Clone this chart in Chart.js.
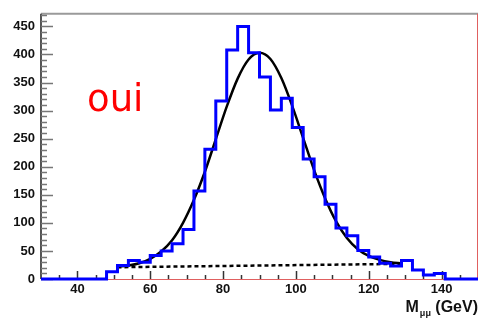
<!DOCTYPE html>
<html>
<head>
<meta charset="utf-8">
<script src="https://cdn.jsdelivr.net/npm/chart.js@4.4.1/dist/chart.umd.min.js"></script>
<style>
  html, body { margin: 0; padding: 0; background: #fff; }
  #wrap { width: 479px; height: 320px; }
</style>
</head>
<body>
<div id="wrap"><canvas id="c" width="479" height="320"></canvas></div>
<script>
// histogram: left edge of each 3 GeV bin and its entries
const binEdges = [30, 33, 36, 39, 42, 45, 48, 51, 54, 57, 60, 63, 66, 69, 72, 75, 78, 81, 84, 87,
                  90, 93, 96, 99, 102, 105, 108, 111, 114, 117, 120, 123, 126, 129, 132, 135, 138, 141, 144, 147]
const binCounts = [0, 0, 0, 0, 0, 0, 13, 24, 33, 30, 42, 50, 63, 88, 157, 231, 317, 408, 450, 403,
                   360, 301, 322, 270, 214, 182, 133, 91, 77, 51, 39, 28, 23, 33, 16, 7, 10, 0, 0, 0]
const histEnd = 150

// fitted curve
const fitMass = [51, 54, 57, 60, 63, 66, 69, 72, 75, 78, 81, 84, 87, 90, 93, 96, 99, 102, 105, 108,
                 111, 114, 117, 120, 123, 126, 129]
const fitValues = [22, 24, 28, 36, 49, 69, 100, 141, 191, 249, 307, 357, 391, 403, 392, 358, 308, 251, 194, 144,
                   103, 73, 53, 41, 34, 30, 28]

// background (dashed)
const bgMass = [51, 129]
const bgValues = [21, 27]

const xTicks = [40, 60, 80, 100, 120, 140]
const yTicks = [0, 50, 100, 150, 200, 250, 300, 350, 400, 450]
const xRange = [30, 150]
const yRange = [0, 472.5]

const histPoints = binEdges.map((x, i) => ({ x: x, y: binCounts[i] }))
histPoints.push({ x: histEnd, y: binCounts[binCounts.length - 1] })

const labelFont = { family: '"Liberation Sans", Arial, sans-serif', size: 13, weight: 'bold' }

// frame, inside ticks and texts (ROOT look)
const rootFrame = {
  id: 'rootFrame',
  beforeDatasetsDraw(chart) {
    const { ctx, chartArea: a, scales } = chart
    const xs = scales.x, ys = scales.y
    ctx.save()
    // top border
    ctx.strokeStyle = '#9a9a9a'
    ctx.lineWidth = 2
    ctx.beginPath(); ctx.moveTo(a.left, a.top); ctx.lineTo(a.right, a.top); ctx.stroke()
    // right and bottom borders in red
    ctx.strokeStyle = '#e06060'
    ctx.lineWidth = 1
    ctx.beginPath(); ctx.moveTo(a.right - 0.5, a.top); ctx.lineTo(a.right - 0.5, a.bottom); ctx.stroke()
    ctx.beginPath(); ctx.moveTo(a.left, a.bottom + 0.5); ctx.lineTo(a.right, a.bottom + 0.5); ctx.stroke()
    // left axis
    ctx.strokeStyle = '#555'
    ctx.lineWidth = 2
    ctx.beginPath(); ctx.moveTo(a.left, a.top); ctx.lineTo(a.left, a.bottom); ctx.stroke()
    // y ticks
    ctx.strokeStyle = '#777'
    ctx.lineWidth = 1.5
    for (let v = 0; v <= 470; v += 10) {
      const y = Math.round(ys.getPixelForValue(v)) + 0.5
      const len = v % 50 === 0 ? 12 : 6
      ctx.beginPath(); ctx.moveTo(a.left, y); ctx.lineTo(a.left + len, y); ctx.stroke()
    }
    // x ticks
    ctx.strokeStyle = '#333'
    for (let v = 35; v < 150; v += 5) {
      const x = Math.round(xs.getPixelForValue(v)) + 0.5
      const len = v % 20 === 0 ? 8 : 4
      ctx.beginPath(); ctx.moveTo(x, a.bottom); ctx.lineTo(x, a.bottom - len); ctx.stroke()
    }
    ctx.restore()
  },
  afterDraw(chart) {
    const { ctx } = chart
    ctx.save()
    // axis title M_mumu (GeV)
    ctx.fillStyle = '#111'
    ctx.textBaseline = 'alphabetic'
    const big = 'bold 16px "Liberation Sans", Arial, sans-serif'
    const small = 'bold 9px "Liberation Sans", Arial, sans-serif'
    ctx.font = big
    const tail = ' (GeV)'
    const wTail = ctx.measureText(tail).width
    const wM = ctx.measureText('M').width
    ctx.font = small
    const wSub = ctx.measureText('μμ').width
    const xEnd = 478
    const base = 312
    ctx.font = big
    ctx.fillText('M', xEnd - wTail - wSub - wM - 1, base)
    ctx.fillText(tail, xEnd - wTail, base)
    ctx.font = small
    ctx.fillText('μμ', xEnd - wTail - wSub, base + 4)
    // red label
    ctx.fillStyle = '#ff0000'
    ctx.font = '37px "DejaVu Sans", sans-serif'
    ctx.fillText('oui', 87, 111)
    ctx.restore()
  }
}

new Chart(document.getElementById('c'), {
  type: 'line',
  data: {
    datasets: [
      {
        label: 'data',
        data: histPoints,
        stepped: 'before',
        borderColor: '#0000ff',
        borderWidth: 3,
        pointRadius: 0,
        fill: false,
        clip: false,
        borderJoinStyle: 'miter'
      },
      {
        label: 'fit',
        data: fitMass.map((x, i) => ({ x: x, y: fitValues[i] })),
        borderColor: '#000',
        borderWidth: 2.5,
        pointRadius: 0,
        fill: false,
        cubicInterpolationMode: 'monotone'
      },
      {
        label: 'background',
        data: bgMass.map((x, i) => ({ x: x, y: bgValues[i] })),
        borderColor: '#000',
        borderWidth: 2.5,
        borderDash: [4, 3],
        pointRadius: 0,
        fill: false
      }
    ]
  },
  options: {
    responsive: false,
    animation: false,
    events: [],
    layout: { padding: { top: 9, right: 1, left: 0, bottom: 0 } },
    plugins: { legend: { display: false }, tooltip: { enabled: false } },
    scales: {
      x: {
        type: 'linear',
        min: xRange[0],
        max: xRange[1],
        grid: { display: false, drawTicks: false },
        border: { display: false },
        afterBuildTicks: s => { s.ticks = xTicks.map(v => ({ value: v })) },
        afterFit: s => { s.height = 41 },
        ticks: { color: '#111', font: labelFont, padding: 3, maxRotation: 0, autoSkip: false }
      },
      y: {
        type: 'linear',
        min: yRange[0],
        max: yRange[1],
        grid: { display: false, drawTicks: false },
        border: { display: false },
        afterBuildTicks: s => { s.ticks = yTicks.map(v => ({ value: v })) },
        afterFit: s => { s.width = 41 },
        ticks: { color: '#111', font: labelFont, padding: 6, autoSkip: false }
      }
    }
  },
  plugins: [rootFrame]
})
</script>
</body>
</html>
